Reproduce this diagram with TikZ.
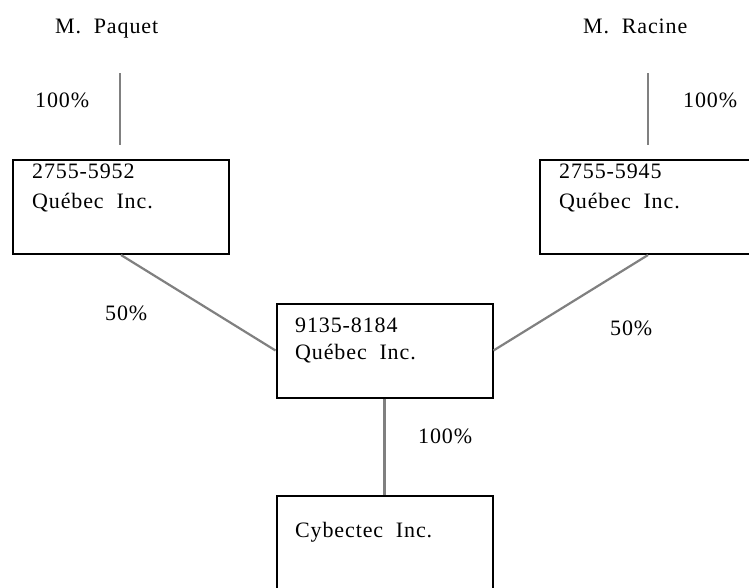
\documentclass[tikz,border=0pt]{standalone}
\usepackage{fontspec}
\setmainfont[LetterSpace=4]{Liberation Serif}
\newcommand{\diagfont}{\fontsize{22}{26}\selectfont}
\begin{document}
\begin{tikzpicture}[x=1pt,y=-1pt,
  box/.style={draw=black,line width=2pt,minimum width=216pt,minimum height=94pt,inner sep=0pt},
  conn/.style={draw=gray,line width=2.2pt},
  txt/.style={inner sep=0pt,anchor=base west,font=\diagfont}]
\useasboundingbox (0,0) rectangle (749,587);
\clip (0,0) rectangle (749,587);
\fill[white] (0,0) rectangle (749,587);
% boxes
\node[box] (A) at (121,207) {};
\node[box] (B) at (648,207) {};
\node[box] (C) at (384.5,350.5) {};
\node[box] (D) at (384.5,543) {};
% box texts
\node[txt] (a1) at (32,178) {2755-5952};
\node[txt] (a2) at (32,208) {Québec\ \ Inc.};
\node[txt] (b1) at (559,178) {2755-5945};
\node[txt] (b2) at (559,208) {Québec\ \ Inc.};
\node[txt] (c1) at (295,332) {9135-8184};
\node[txt] (c2) at (295,359) {Québec\ \ Inc.};
\node[txt] (d1) at (295,537) {Cybectec\ \ Inc.};
% owners
\node[txt] (pq) at (55,33) {M.\ \ Paquet};
\node[txt] (rc) at (583,33) {M.\ \ Racine};
\coordinate (pqs) at (120,73);
\coordinate (rcs) at (648,73);
% connectors
\draw[conn,shorten >=14pt] (pqs) -- (pqs |- A.north);
\draw[conn,shorten >=14pt] (rcs) -- (rcs |- B.north);
\draw[conn] (A.south) -- (C.west);
\draw[conn] (B.south) -- (C.east);
\draw[conn] (C.south) -- (D.north);
% percentages
\node[txt] (l1) at (35,107) {100\%};
\node[txt] (l2) at (683,107) {100\%};
\node[txt] (l3) at (105,320) {50\%};
\node[txt] (l4) at (610,335) {50\%};
\node[txt] (l5) at (418,443) {100\%};
\end{tikzpicture}
\end{document}
